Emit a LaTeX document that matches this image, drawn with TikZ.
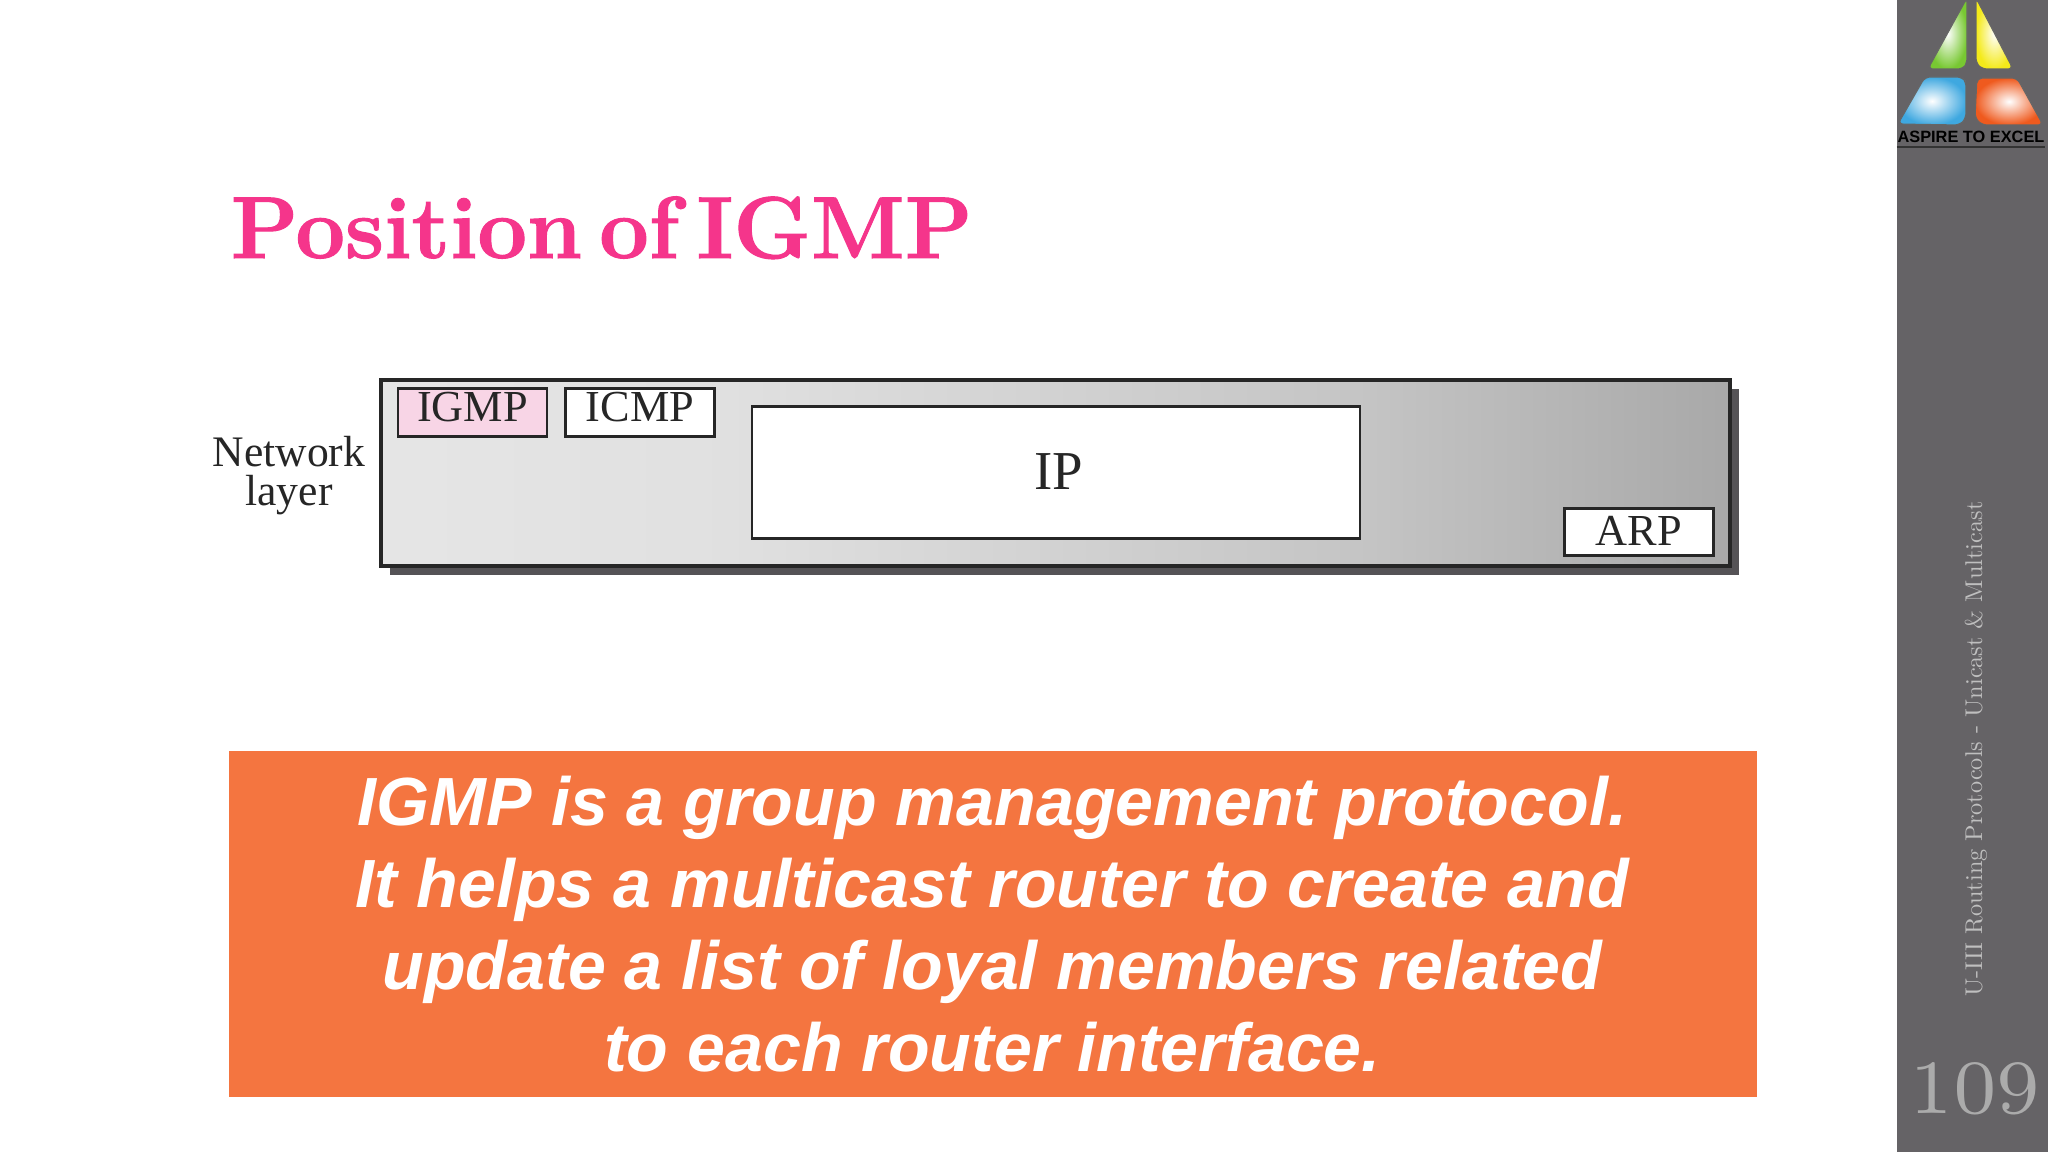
\documentclass[tikz,border=0pt]{standalone}
\usepackage{fontspec}
\usepackage{xcolor}
\newfontfamily\timesfont{Liberation Serif}
\newfontfamily\arialfont{Liberation Sans}
\newfontfamily\titlefont{Latin Modern Roman}[BoldFeatures={FakeBold=1.2}]
\definecolor{titlepink}{HTML}{F5358B}
\definecolor{igmppink}{HTML}{F8D5E6}
\definecolor{bannerorange}{HTML}{F47540}
\definecolor{sidegray}{HTML}{656366}
\definecolor{boxshadow}{HTML}{555356}
\definecolor{logogreen}{HTML}{78C832}
\definecolor{logoyellow}{HTML}{F4EA1A}
\definecolor{logoblue}{HTML}{3FA8E0}
\definecolor{logored}{HTML}{EF5A1E}
\pgfdeclarehorizontalshading{netgrad}{100bp}{rgb(0bp)=(.90,.90,.90); rgb(25bp)=(.90,.90,.90); rgb(37.5bp)=(.88,.88,.88); rgb(61.5bp)=(.77,.77,.77); rgb(75bp)=(.66,.66,.66); rgb(100bp)=(.66,.66,.66)}
\tikzset{
  protobox/.style={draw=black!85,line width=.85pt,fill=white,inner sep=0pt,outer sep=0pt,text=black!85,
    minimum width=1.49cm,minimum height=.47cm,font=\timesfont\fontsize{12.6}{14}\selectfont},
  logopart/.style={draw=black!60,line width=.3pt,rounded corners=1.5pt}
}
\begin{document}
\begin{tikzpicture}[x=1cm,y=-1cm]
  \useasboundingbox (0,0) rectangle (20.48,11.52);
  \fill[white] (0,0) rectangle (20.48,11.52);
  %%
  \begin{scope}
    \fill[sidegray] (18.97,0) rectangle (20.48,11.52);
    \node[rotate=90,scale=.69,text=black!25,font=\fontsize{10}{12}\selectfont] (sidetext) at (19.76,7.49) {U-III Routing Protocols - Unicast \& Multicast};
    \node[anchor=base,scale=3.12,text=black!33,font=\fontsize{7}{8}\selectfont] (pagenum) at (19.75,11.13) {109};
  \end{scope}
  %%
  \begin{scope}
    \shade[logopart,inner color=white,outer color=logogreen] (19.67,-.02) -- (19.67,.63) -- (19.63,.69) -- (19.28,.69) -- cycle;
    \shade[logopart,inner color=white,outer color=logoyellow] (19.76,-.02) -- (20.13,.69) -- (19.82,.69) -- (19.76,.63) -- cycle;
    \shade[logopart,inner color=white,outer color=logoblue] (19.25,.77) -- (19.62,.77) -- (19.66,.82) -- (19.66,1.18) -- (19.6,1.25) -- (18.98,1.24) -- cycle;
    \shade[logopart,inner color=white,outer color=logored] (19.77,.78) -- (20.17,.78) -- (20.43,1.25) -- (19.82,1.25) -- (19.75,1.18) -- cycle;
    \node[inner sep=0pt,text=black,font=\arialfont\bfseries\fontsize{4.65}{6}\selectfont] (aspire) at (19.71,1.365) {ASPIRE TO EXCEL};
    \draw[line width=.5pt,black!80] ([yshift=-1.1pt]aspire.south west) -- ([yshift=-1.1pt]aspire.south east);
  \end{scope}
  %%
  \node[anchor=base west,inner sep=0pt,text=titlepink,font=\titlefont\bfseries\fontsize{25}{28}\selectfont] (title) at (2.3,2.58) {\spaceskip=.2em\relax Position of IGMP};
  %%
  \begin{scope}
    \node[fill=boxshadow,inner sep=0pt,minimum width=13.49cm,minimum height=1.86cm] (netshadow) at (10.64,4.82) {};
    \node[draw=black!85,line width=.9pt,inner sep=0pt,outer sep=0pt,minimum width=13.49cm,minimum height=1.86cm,
      shading=netgrad] (netlayer) at (10.555,4.73) {};
    \node[protobox,fill=igmppink,text height=9.4pt,text depth=4pt] (igmp) at (4.725,4.125) {IGMP};
    \node[protobox,text height=9.4pt,text depth=4pt] (icmp) at (6.4,4.125) {ICMP};
    \node[protobox,minimum width=6.08cm,minimum height=1.31cm,text height=23.6pt,text depth=13.7pt,
      font=\timesfont\fontsize{15.6}{18}\selectfont] (ip) at (10.56,4.725) {\hspace*{1.5pt}IP};
    \node[protobox,text height=10.5pt,text depth=2.85pt] (arp) at (16.39,5.32) {ARP};
    \node[align=center,inner sep=0pt,text=black!85,font=\timesfont\fontsize{12.4}{11.2}\selectfont] (netlabel) at (2.89,4.755) {Network\\layer};
  \end{scope}
  %%
  \node[fill=bannerorange,inner sep=0pt,minimum width=15.28cm,minimum height=3.46cm,align=center,text=white,
    font=\arialfont\bfseries\itshape\fontsize{19.4}{23.4}\selectfont] (banner) at (9.925,9.24)
    {IGMP is a group management protocol.\\It helps a multicast router to create and\\update a list of loyal members related\\to each router interface.};
\end{tikzpicture}
\end{document}
